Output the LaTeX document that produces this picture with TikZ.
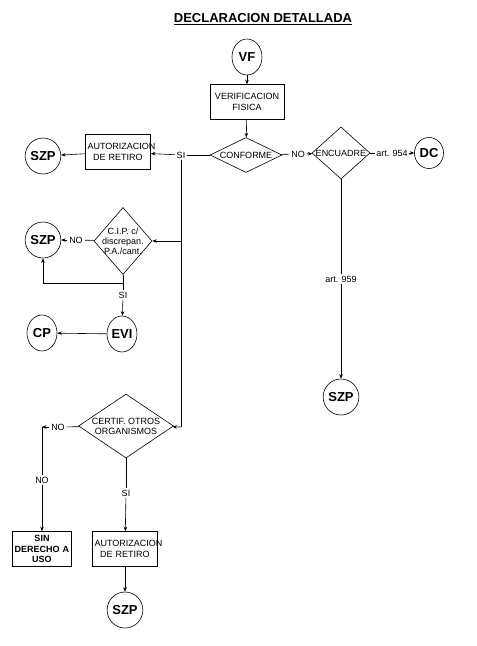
\documentclass[tikz,border=0pt]{standalone}
\usepackage{fontspec}
\setmainfont{Liberation Sans}
\usetikzlibrary{shapes.geometric,arrows.meta}

\begin{document}
\begin{tikzpicture}[x=1pt, y=-1pt, line width=0.6pt,
    term/.style={draw, ellipse, minimum width=30pt, minimum height=36pt, inner sep=0pt, font=\fontsize{13}{14}\selectfont\bfseries},
    proc/.style={draw, rectangle, minimum height=35pt, inner sep=2pt, align=center, font=\fontsize{9}{10.5}\selectfont},
    dec/.style={draw, diamond, inner sep=-2pt, align=center, font=\fontsize{9}{10}\selectfont},
    lbl/.style={inner sep=1.5pt, font=\fontsize{9}{10}\selectfont},
    arr/.style={-{Stealth[length=4.5pt,width=3.5pt]}}]
        \useasboundingbox (0, 0) rectangle (477, 646);

        \begin{scope}
            % Title
            \node[font=\fontsize{13}{14}\selectfont\bfseries] (title) at (263, 19) {\underline{DECLARACION DETALLADA}};

            % Main line
            \node[term] (vf) at (247, 57) {VF};
            \node[proc, text width=70pt] (verif) at (247, 102) {VERIFICACION\\FISICA};
            \node[dec, minimum width=72pt, minimum height=35pt, aspect=2.05] (conf) at (246, 155) {CONFORME};
            \node[lbl] (siA) at (181, 155) {SI};
            \node[proc, text width=61pt] (autA) at (118, 152) {AUTORIZACION\\DE RETIRO};
            \node[term] (szpA) at (43, 156) {SZP};
            \node[lbl] (noA) at (298, 154) {NO};
            \node[dec, minimum width=58pt, minimum height=52pt, aspect=1.1] (enc) at (341, 153) {ENCUADRE};
            \node[lbl] (art954) at (392, 153) {art. 954};
            \node[term, minimum width=29pt, minimum height=31pt] (dc) at (429, 153) {DC};
            \node[lbl] (art959) at (341, 279) {art. 959};
            \node[term] (szpB) at (341, 397) {SZP};

            % Connect Nodes
            \draw[arr] (vf) -- (verif);
            \draw[arr] (verif) -- (conf);
            \draw (conf) -- (siA);
            \draw[arr] (siA) -- (autA);
            \draw[arr] (autA) -- (szpA);
            \draw (conf) -- (noA);
            \draw[arr] (noA) -- (enc);
            \draw (enc) -- (art954);
            \draw[arr] (art954) -- (dc);
            \draw (enc) -- (art959);
            \draw[arr] (art959) -- (szpB);
        \end{scope}

        \begin{scope}
            % C.I.P. branch
            \coordinate (j1) at (181, 241);
            \coordinate (j2) at (181, 427);
            \node[dec, minimum width=58pt, minimum height=67pt, aspect=0.87] (cip) at (123, 241) {C.I.P. c/\\discrepan.\\P.A./cant.};
            \node[lbl] (noB) at (76, 240) {NO};
            \node[term] (szpC) at (43, 240) {SZP};
            \coordinate (k1) at (123, 283);
            \node[lbl] (siB) at (123, 295) {SI};
            \node[term] (evi) at (122, 334) {EVI};
            \node[term] (cp) at (42, 333) {CP};

            % Connect Nodes
            \draw (siA) -- (j2);
            \draw[arr] (j1) -- (cip);
            \draw (cip) -- (noB);
            \draw[arr] (noB) -- (szpC);
            \draw (cip) -- (siB);
            \draw[arr] (k1) -| (szpC.south);
            \draw[arr] (siB) -- (evi);
            \draw[arr] (evi) -- (cp);
        \end{scope}

        \begin{scope}
            % Otros organismos
            \node[dec, minimum width=95pt, minimum height=64pt, aspect=1.48] (certif) at (126, 426) {CERTIF. OTROS\\ORGANISMOS};
            \node[lbl] (noC) at (58, 427) {NO};
            \coordinate (m1) at (42, 427);
            \node[lbl] (noD) at (42, 480) {NO};
            \node[proc, text width=55pt, font=\fontsize{9}{10.5}\selectfont\bfseries] (sin) at (42, 549) {SIN\\DERECHO A\\USO};
            \node[lbl] (siC) at (126, 493) {SI};
            \node[proc, text width=61pt] (autB) at (125, 549) {AUTORIZACION\\DE RETIRO};
            \node[term] (szpD) at (125, 610) {SZP};

            % Connect Nodes
            \draw[arr] (j2) -- (certif);
            \draw (certif) -- (noC);
            \draw[arr] (noC) -- (m1);
            \draw (m1) -- (noD);
            \draw[arr] (noD) -- (sin);
            \draw (certif) -- (siC);
            \draw[arr] (siC) -- (autB);
            \draw[arr] (autB) -- (szpD);
        \end{scope}
    \end{tikzpicture}
\end{document}
